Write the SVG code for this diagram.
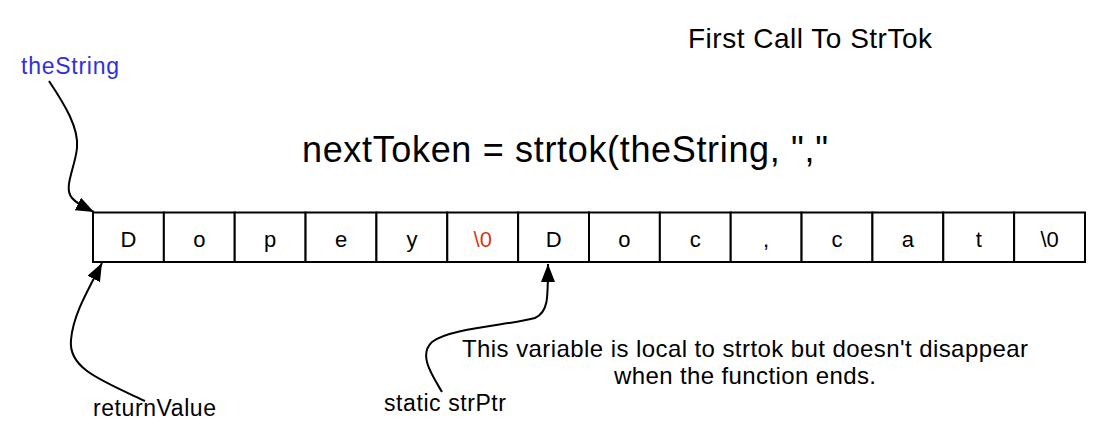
<svg xmlns="http://www.w3.org/2000/svg" width="1106" height="441" viewBox="0 0 1106 441">
<style>
text { font-family: "Liberation Sans", Arial, Helvetica, sans-serif; fill: #000; }
.cell rect { fill: #fff; stroke: #000; stroke-width: 2; }
.cell text { font-size: 22px; text-anchor: middle; }
.nul text { fill: #d63a12; }
.conn { fill: none; stroke: #000; stroke-width: 2; }
.lbl { font-size: 23px; }
</style>
<defs>
<marker id="arrow" markerUnits="userSpaceOnUse" markerWidth="20" markerHeight="16" refX="18" refY="7" orient="auto">
<path d="M0,0 L18,7 L0,14 z" fill="#000"/>
</marker>
</defs>
<rect width="1106" height="441" fill="#fff"/>

<g id="title"><text x="688" y="48" font-size="28" textLength="244">First Call To StrTok</text></g>
<g id="call"><text x="302" y="162" font-size="36" textLength="526">nextToken = strtok(theString, ","</text></g>

<g id="cells">
<g id="cell0" class="cell"><rect x="93" y="212.5" width="70.86" height="49.5"/><text x="128.4" y="247">D</text></g>
<g id="cell1" class="cell"><rect x="163.86" y="212.5" width="70.86" height="49.5"/><text x="199.3" y="247">o</text></g>
<g id="cell2" class="cell"><rect x="234.71" y="212.5" width="70.86" height="49.5"/><text x="270.1" y="247">p</text></g>
<g id="cell3" class="cell"><rect x="305.57" y="212.5" width="70.86" height="49.5"/><text x="341" y="247">e</text></g>
<g id="cell4" class="cell"><rect x="376.43" y="212.5" width="70.86" height="49.5"/><text x="411.9" y="247">y</text></g>
<g id="cell5" class="cell nul"><rect x="447.29" y="212.5" width="70.86" height="49.5"/><text x="482.7" y="247">\0</text></g>
<g id="cell6" class="cell"><rect x="518.14" y="212.5" width="70.86" height="49.5"/><text x="553.6" y="247">D</text></g>
<g id="cell7" class="cell"><rect x="589" y="212.5" width="70.86" height="49.5"/><text x="624.4" y="247">o</text></g>
<g id="cell8" class="cell"><rect x="659.86" y="212.5" width="70.86" height="49.5"/><text x="695.3" y="247">c</text></g>
<g id="cell9" class="cell"><rect x="730.71" y="212.5" width="70.86" height="49.5"/><text x="766.1" y="247">,</text></g>
<g id="cell10" class="cell"><rect x="801.57" y="212.5" width="70.86" height="49.5"/><text x="837" y="247">c</text></g>
<g id="cell11" class="cell"><rect x="872.43" y="212.5" width="70.86" height="49.5"/><text x="907.9" y="247">a</text></g>
<g id="cell12" class="cell"><rect x="943.29" y="212.5" width="70.86" height="49.5"/><text x="978.7" y="247">t</text></g>
<g id="cell13" class="cell"><rect x="1014.14" y="212.5" width="70.86" height="49.5"/><text x="1049.6" y="247">\0</text></g>
</g>

<g id="theString"><text class="lbl" x="21" y="74" textLength="98" style="fill:#3030dd">theString</text></g>
<g id="returnValue"><text class="lbl" x="93" y="416" textLength="123">returnValue</text></g>
<g id="strPtr"><text class="lbl" x="384" y="411" textLength="122">static strPtr</text></g>
<g id="note">
<text x="462" y="357" font-size="24" textLength="566">This variable is local to strtok but doesn't disappear</text>
<text x="614" y="384" font-size="24" textLength="262">when the function ends.</text>
</g>

<g id="connectors">
<path class="conn" d="M49,81 C65,105 79,128 77,148 C75,168 63,188 72,198 C77,204 84,207 94,212" marker-end="url(#arrow)"/>
<path class="conn" d="M145,401 C100,380 68,368 71,340 C73,315 88,290 102,263" marker-end="url(#arrow)"/>
<path class="conn" d="M442,392 C432,375 418,355 432,342 C450,328 510,325 535,318 C548,312 548,300 548,264" marker-end="url(#arrow)"/>
</g>
</svg>
